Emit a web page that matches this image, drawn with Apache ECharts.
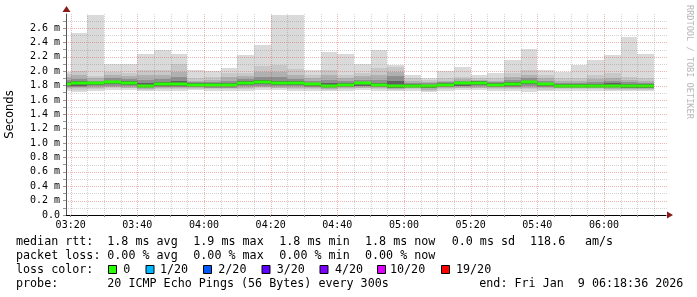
<!DOCTYPE html>
<html><head><meta charset="utf-8">
<script src="https://cdn.jsdelivr.net/npm/echarts@6/dist/echarts.min.js"></script>
<style>html,body{margin:0;padding:0;background:#fff}#c{width:697px;height:297px}</style>
</head><body><div id="c"></div>
<script>
// ---------- data ----------
const xStart = "03:18:36";
const xEnd = "06:18:36";
const stepMinutes = 5;
const bucketStart = ["03:15","03:20","03:25","03:30","03:35","03:40","03:45","03:50","03:55",
  "04:00","04:05","04:10","04:15","04:20","04:25","04:30","04:35","04:40","04:45","04:50","04:55",
  "05:00","05:05","05:10","05:15","05:20","05:25","05:30","05:35","05:40","05:45","05:50","05:55",
  "06:00","06:05","06:10"];
const median = [1.82,1.83,1.83,1.85,1.84,1.80,1.82,1.82,1.81,1.81,1.81,1.84,1.85,1.83,1.83,1.82,1.80,1.81,1.83,1.81,1.79,1.80,1.79,1.81,1.83,1.84,1.81,1.82,1.85,1.82,1.80,1.80,1.80,1.80,1.79,1.79];
const pingMax = [1.99,2.53,2.78,2.10,2.10,2.24,2.29,2.24,2.02,2.00,2.04,2.22,2.36,2.78,2.78,2.02,2.27,2.24,2.10,2.29,2.09,1.95,1.91,2.00,2.06,1.95,1.98,2.16,2.31,2.02,1.99,2.09,2.16,2.22,2.47,2.24];
const band2Hi = [1.96,2.00,1.93,1.99,1.97,2.02,2.02,2.10,1.90,1.92,1.97,1.98,2.07,2.09,2.03,1.95,2.02,1.95,1.98,2.04,2.06,1.90,1.88,1.90,1.92,1.90,1.90,1.97,2.02,1.95,1.90,1.90,1.94,1.97,1.92,1.90];
const band3Hi = [1.92,1.94,1.90,1.94,1.93,1.95,1.94,1.99,1.87,1.88,1.92,1.93,1.99,1.99,1.95,1.90,1.94,1.90,1.93,1.95,1.99,1.87,1.85,1.87,1.89,1.88,1.87,1.92,1.95,1.90,1.87,1.87,1.89,1.91,1.88,1.87];
const band4Hi = [1.88,1.89,1.87,1.90,1.89,1.88,1.89,1.92,1.85,1.85,1.87,1.89,1.92,1.92,1.89,1.87,1.88,1.86,1.88,1.88,1.93,1.84,1.83,1.85,1.87,1.87,1.85,1.88,1.90,1.87,1.84,1.84,1.85,1.86,1.85,1.84];
const band5Hi = [1.85,1.86,1.85,1.87,1.86,1.84,1.85,1.86,1.83,1.83,1.84,1.86,1.88,1.86,1.86,1.84,1.83,1.84,1.85,1.84,1.86,1.82,1.81,1.83,1.85,1.86,1.83,1.85,1.87,1.84,1.82,1.82,1.82,1.83,1.82,1.82];
const band5Lo = [1.80,1.80,1.81,1.82,1.81,1.78,1.80,1.80,1.79,1.79,1.79,1.81,1.82,1.81,1.81,1.80,1.78,1.79,1.80,1.79,1.77,1.78,1.77,1.79,1.80,1.81,1.79,1.80,1.82,1.80,1.78,1.78,1.78,1.78,1.77,1.77];
const band4Lo = [1.78,1.78,1.79,1.80,1.79,1.77,1.78,1.78,1.78,1.77,1.77,1.79,1.80,1.79,1.79,1.78,1.77,1.78,1.79,1.78,1.76,1.77,1.76,1.78,1.79,1.79,1.78,1.78,1.80,1.78,1.77,1.77,1.77,1.77,1.76,1.76];
const band3Lo = [1.76,1.76,1.77,1.78,1.77,1.75,1.76,1.77,1.76,1.76,1.76,1.77,1.78,1.77,1.77,1.76,1.75,1.76,1.77,1.76,1.75,1.76,1.74,1.76,1.77,1.77,1.76,1.77,1.77,1.76,1.76,1.76,1.76,1.75,1.75,1.75];
const band2Lo = [1.75,1.74,1.75,1.76,1.76,1.74,1.75,1.75,1.75,1.75,1.75,1.75,1.76,1.76,1.75,1.75,1.74,1.75,1.76,1.75,1.74,1.75,1.73,1.75,1.76,1.76,1.75,1.75,1.75,1.74,1.75,1.75,1.75,1.74,1.74,1.74];
const pingMin = [1.73,1.71,1.73,1.74,1.74,1.72,1.73,1.73,1.74,1.73,1.73,1.73,1.74,1.74,1.73,1.73,1.72,1.73,1.74,1.73,1.72,1.73,1.71,1.73,1.74,1.74,1.73,1.73,1.71,1.72,1.73,1.73,1.73,1.72,1.72,1.72];
const xTickLabels = ["03:20","03:40","04:00","04:20","04:40","05:00","05:20","05:40","06:00"];
const yTickValues = [0,0.2,0.4,0.6,0.8,1.0,1.2,1.4,1.6,1.8,2.0,2.2,2.4,2.6];
const yMax = 2.795;
const lossLabels = ["0","1/20","2/20","3/20","4/20","10/20","19/20"];
const lossColors = ["#26ff00","#00b8ff","#0059ff","#5e00ff","#7e00ff","#dd00ff","#ff0000"];
const statRtt = ["1.8 ms avg","1.9 ms max","1.8 ms min","1.8 ms now","0.0 ms sd","118.6","am/s"];
const statLoss = ["0.00 % avg","0.00 % max","0.00 % min","0.00 % now"];
const probeText = "20 ICMP Echo Pings (56 Bytes) every 300s";
const endText = "end: Fri Jan  9 06:18:36 2026";

// ---------- helpers ----------
function toMin(s){ const p = s.split(':').map(Number); return p[0]*60 + p[1] + (p[2]||0)/60; }
function pad(n){ return (n<10?'0':'') + n; }
function fmtTime(v){ const m = Math.round(v); return pad(Math.floor(m/60)) + ':' + pad(m%60); }

const xMin = toMin(xStart), xMax = toMin(xEnd);
const majorX = xTickLabels.map(toMin);
const allX = [];
for (let t = Math.ceil(xMin/stepMinutes)*stepMinutes; t <= xMax; t += stepMinutes) allX.push(t);

const smokeData = bucketStart.map((s,i)=>{
  const t = toMin(s);
  return [t, t+stepMinutes, pingMin[i], band2Lo[i], band3Lo[i], band4Lo[i], band5Lo[i], median[i],
          band5Hi[i], band4Hi[i], band3Hi[i], band2Hi[i], pingMax[i]];
});
const bandColors = ['#dadada','#c8c8c8','#b0b0b0','#909090','#606060'];

function renderSmoke(params, api){
  const cs = params.coordSys;
  let x0 = api.coord([api.value(0), 0])[0];
  let x1 = api.coord([api.value(1), 0])[0];
  x0 = Math.max(x0, cs.x); x1 = Math.min(x1, cs.x + cs.width);
  if (x1 <= x0) return;
  x0 = Math.round(x0); x1 = Math.round(x1);
  const Y = v => api.coord([api.value(0), v])[1];
  const children = [];
  for (let k = 0; k < 5; k++){
    const lo = api.value(2+k), hi = api.value(12-k);
    const yt = Math.round(Y(hi)), yb = Math.round(Y(lo));
    children.push({type:'rect', shape:{x:x0, y:yt, width:x1-x0, height:yb-yt}, style:{fill:bandColors[k]}});
  }
  const ym = Math.round(Y(api.value(7)));
  children.push({type:'rect', shape:{x:x0, y:ym-1.5, width:x1-x0, height:3}, style:{fill:lossColors[0]}});
  return {type:'group', children};
}

function renderGrid(params, api){
  const cs = params.coordSys;
  const children = [];
  const major = 'rgba(210,60,60,0.38)', minor = 'rgba(120,120,120,0.32)';
  for (let k = 1; k*0.1 <= yMax; k++){
    const v = k*0.1;
    const y = Math.round(api.coord([xMin, v])[1]) + 0.5;
    children.push({type:'line', shape:{x1:cs.x, y1:y, x2:cs.x+cs.width+2, y2:y},
      style:{stroke: (k%2===0)? major : minor, lineWidth:1, lineDash:[1,1]}});
  }
  allX.forEach(t=>{
    const x = Math.round(api.coord([t, 0])[0]) + 0.5;
    const isMajor = majorX.some(m=>Math.abs(m-t)<1e-6);
    children.push({type:'line', shape:{x1:x, y1:cs.y, x2:x, y2:cs.y+cs.height},
      style:{stroke: isMajor? major : minor, lineWidth:1, lineDash:[1,1]}});
  });
  return {type:'group', children};
}

// ---------- legend graphics ----------
const g = [];
function txt(x, y, s){
  g.push({type:'text', x, y, style:{text:s, fontFamily:'DejaVu Sans Mono', fontSize:11.7, fill:'#000', verticalAlign:'middle'}});
}
const rttX = [107.3,193.3,279.3,365,451.7,530,585];
txt(16, 241.5, 'median rtt:');
statRtt.forEach((s,i)=>txt(rttX[i], 241.5, s));
txt(16, 255.5, 'packet loss:');
statLoss.forEach((s,i)=>txt(rttX[i], 255.5, s));
txt(16, 269.5, 'loss color:');
const boxX = [108.5,146,203.5,262,320,377.5,441.5];
const lblX = [123.3,160,218.3,276.7,335,390,456];
lossLabels.forEach((s,i)=>{
  g.push({type:'rect', shape:{x:boxX[i], y:265.5, width:8, height:8}, style:{fill:lossColors[i], stroke:'#000', lineWidth:1}});
  txt(lblX[i], 269.5, s);
});
txt(16, 283.5, 'probe:');
txt(107.3, 283.5, probeText);
txt(479.3, 283.5, endText);
g.push({type:'text', x:689, y:5, rotation:-Math.PI/2,
  style:{text:'RRDTOOL / TOBI OETIKER', fontFamily:'DejaVu Sans Mono', fontSize:8.6, fill:'#b8b8b8', verticalAlign:'middle', align:'left'}});
g.push({type:'polygon', shape:{points:[[667,211.5],[673,215],[667,218.5]]}, style:{fill:'#8b1a1a'}, z:100});
g.push({type:'polygon', shape:{points:[[62.5,12],[66.5,6],[70.5,12]]}, style:{fill:'#8b1a1a'}, z:100});

const chart = echarts.init(document.getElementById('c'), null, {renderer:'canvas'});
chart.setOption({
  animation:false,
  backgroundColor:'#ffffff',
  grid:{left:66, right:31, top:14, bottom:82, containLabel:false, outerBoundsMode:'none'},
  xAxis:{
    type:'value', min:xMin, max:xMax, z:10,
    axisLine:{show:true, onZero:false, lineStyle:{color:'#000', width:1}},
    axisTick:{show:true, customValues:allX, length:2, lineStyle:{color:'#888'}},
    axisLabel:{customValues:majorX, formatter:v=>fmtTime(v), fontFamily:'DejaVu Sans Mono', fontSize:10, color:'#000', margin:5},
    splitLine:{show:false}
  },
  yAxis:{
    type:'value', min:0, max:yMax, interval:0.1, z:10,
    axisLine:{show:true, lineStyle:{color:'#555'}},
    axisTick:{show:true, length:3, lineStyle:{color:'#999'}},
    axisLabel:{fontFamily:'DejaVu Sans Mono', fontSize:10, color:'#000', margin:6, showMaxLabel:false,
      formatter:v=>{ const t = Math.round(v*10); if (Math.abs(v*10-t)>1e-6 || t%2 || v>2.65) return '';
        const idx = yTickValues.findIndex(y=>Math.abs(y-v)<1e-6); if (idx<0) return '';
        const val = yTickValues[idx]; return val===0 ? '0.0' : val.toFixed(1)+' m'; }},
    splitLine:{show:false},
    name:'Seconds', nameLocation:'middle', nameGap:50, nameRotate:90,
    nameTextStyle:{fontFamily:'DejaVu Sans', fontSize:11.5, color:'#000'}
  },
  series:[
    {type:'custom', name:'smoke', renderItem:renderSmoke, data:smokeData, encode:{x:[0,1], y:[2,12]}, z:1, clip:true, silent:true},
    {type:'custom', name:'grid', renderItem:renderGrid, data:[[xMin+1, 1]], encode:{x:0, y:1}, z:3, silent:true}
  ],
  graphic:g
});
</script>
</body></html>
